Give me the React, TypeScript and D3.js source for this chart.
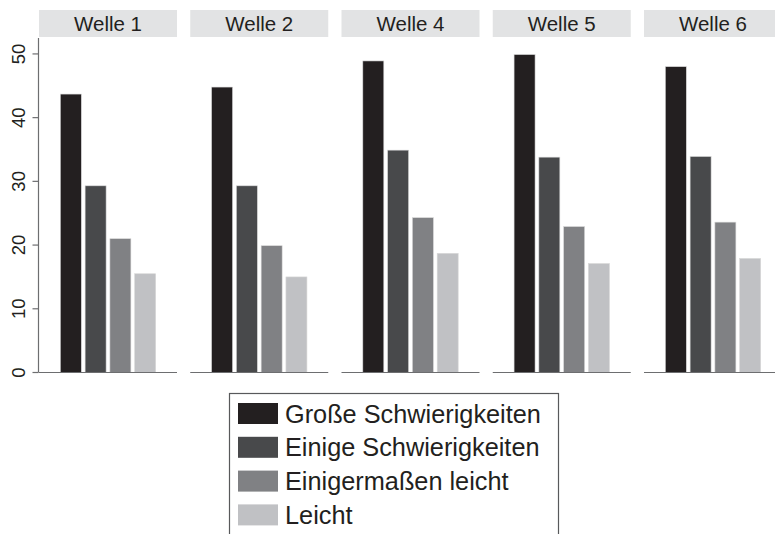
import React from "react";
import * as d3 from "d3";

const waves = ["Welle 1", "Welle 2", "Welle 4", "Welle 5", "Welle 6"];
const categories = [
  "Große Schwierigkeiten",
  "Einige Schwierigkeiten",
  "Einigermaßen leicht",
  "Leicht",
];
const grosse = [43.7, 44.8, 48.9, 49.9, 48.0];
const einige = [29.3, 29.3, 34.9, 33.8, 33.9];
const einigermassen = [21.0, 19.9, 24.3, 22.9, 23.6];
const leicht = [15.5, 15.0, 18.7, 17.1, 17.9];
const seriesValues = [grosse, einige, einigermassen, leicht];
const colors = ["#231f20", "#48494b", "#808184", "#c0c1c4"];
const yTicks = [0, 10, 20, 30, 40, 50];

const FONT = "'Liberation Sans', Arial, Helvetica, sans-serif";

export default function App() {
  const W = 775;
  const H = 534;
  const y = d3.scaleLinear().domain([0, 52.5]).range([372.5, 38]);
  const panel = d3
    .scaleBand<string>()
    .domain(waves)
    .range([39, 782])
    .paddingInner(0.0876)
    .paddingOuter(0);
  const bar = d3
    .scaleBand<string>()
    .domain(categories)
    .range([0, panel.bandwidth()])
    .paddingInner(0.153)
    .paddingOuter(0.86);

  return (
    <svg
      width={W}
      height={H}
      style={{ position: "absolute", left: 0, top: 0, background: "#fff" }}
      fontFamily={FONT}
    >
      {/* y axis */}
      <line x1={38.5} x2={38.5} y1={y(52.5)} y2={y(0)} stroke="#6d6e70" strokeWidth={1.2} />
      {yTicks.map((t) => (
        <g key={t}>
          <line x1={32.5} x2={38.5} y1={y(t)} y2={y(t)} stroke="#6d6e70" strokeWidth={1.2} />
          <text
            transform={`translate(24.5,${y(t)}) rotate(-90)`}
            textAnchor="middle"
            fontSize={18.5}
            fill="#231f20"
          >
            {t}
          </text>
        </g>
      ))}
      {waves.map((w, wi) => {
        const x0 = panel(w)!;
        return (
          <g key={w}>
            <rect x={x0} y={10} width={panel.bandwidth()} height={27} fill="#e2e3e4" />
            <text
              x={x0 + panel.bandwidth() / 2}
              y={30.5}
              textAnchor="middle"
              fontSize={20.5}
              fill="#231f20"
            >
              {w}
            </text>
            {categories.map((c, ci) => {
              const v = seriesValues[ci][wi];
              return (
                <rect
                  key={c}
                  x={x0 + bar(c)!}
                  y={y(v)}
                  width={bar.bandwidth()}
                  height={y(0) - y(v)}
                  fill={colors[ci]}
                  stroke="#d8d8d8"
                  strokeWidth={0.6}
                />
              );
            })}
            <line
              x1={x0}
              x2={x0 + panel.bandwidth()}
              y1={y(0)}
              y2={y(0)}
              stroke="#6d6e70"
              strokeWidth={1.2}
            />
          </g>
        );
      })}
      {/* legend */}
      <rect x={229.5} y={393.5} width={329} height={160} fill="none" stroke="#58595b" strokeWidth={1.2} />
      {categories.map((c, i) => {
        const yy = 403 + i * 33.8;
        return (
          <g key={c}>
            <rect x={238} y={yy} width={40} height={21} fill={colors[i]} />
            <text x={285} y={yy + 19.5} fontSize={25.3} fill="#231f20">
              {c}
            </text>
          </g>
        );
      })}
    </svg>
  );
}
